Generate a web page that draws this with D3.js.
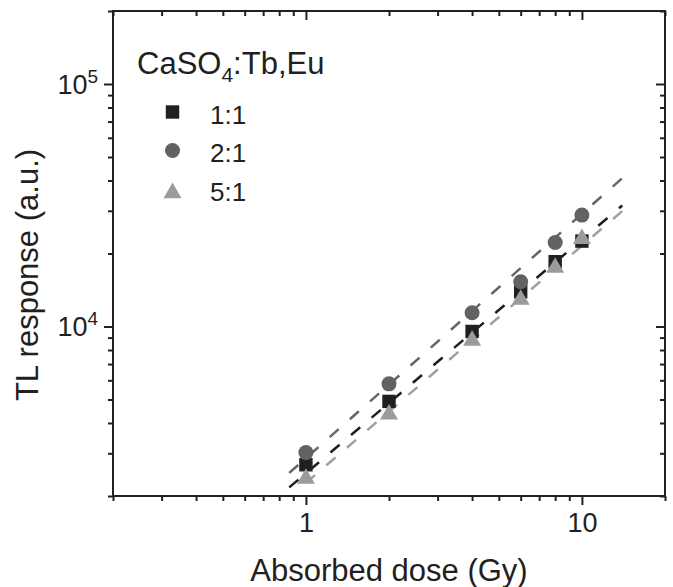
<!DOCTYPE html>
<html>
<head>
<meta charset="utf-8">
<script src="https://cdn.jsdelivr.net/npm/d3@7"></script>
<style>
  html, body { margin: 0; padding: 0; background: #fff; }
  svg { display: block; }
  text { font-family: "Liberation Sans", Arial, Helvetica, sans-serif; fill: #231f20; }
</style>
</head>
<body>
<svg id="chart" width="673" height="587"></svg>
<script>
// Absorbed dose (Gy)
const dose = [1, 2, 4, 6, 8, 10];
// TL response (a.u.) for each Tb:Eu ratio
const resp11 = [2690, 4910, 9540, 13900, 18500, 22500];
const resp21 = [3020, 5800, 11400, 15300, 22200, 28800];
const resp51 = [2360, 4340, 8740, 12900, 17500, 23000];

// Linear fit end points (dose, response)
const fit11Dose = [0.87, 14];
const fit11Resp = [2170, 31550];
const fit21Dose = [0.87, 14];
const fit21Resp = [2490, 40900];
const fit51Dose = [1.0, 14];
const fit51Resp = [2265, 29930];

const seriesNames = ["1:1", "2:1", "5:1"];
const xMajor = [1, 10];
const xMinor = [0.2, 0.3, 0.4, 0.5, 0.6, 0.7, 0.8, 0.9, 2, 3, 4, 5, 6, 7, 8, 9, 20];
const yMajor = [1e4, 1e5];
const yMinor = [2000, 3000, 4000, 5000, 6000, 7000, 8000, 9000,
                20000, 30000, 40000, 50000, 60000, 70000, 80000, 90000, 200000];

const ink = "#231f20";
const plotL = 113, plotR = 665, plotT = 11, plotB = 496;

const svg = d3.select("#chart");
const x = d3.scaleLog().domain([0.2, 20]).range([plotL, plotR]);
const y = d3.scaleLog().domain([2000, 200000]).range([plotB, plotT]);

function styleAxis(g) {
  g.select(".domain").remove();
  g.selectAll(".tick line").attr("stroke", ink).attr("stroke-width", 2);
}

// bottom axis (outward ticks)
svg.append("g").attr("transform", `translate(0,${plotB})`)
  .call(d3.axisBottom(x).tickValues(xMinor).tickSize(5).tickFormat(""))
  .call(styleAxis);
const xb = svg.append("g").attr("transform", `translate(0,${plotB})`)
  .call(d3.axisBottom(x).tickValues(xMajor).tickSize(9).tickPadding(8).tickFormat(d3.format("d")))
  .call(styleAxis);
xb.selectAll("text").attr("font-size", 27).attr("fill", ink);

// top axis (inward ticks)
svg.append("g").attr("transform", `translate(0,${plotT})`)
  .call(d3.axisBottom(x).tickValues(xMinor).tickSize(5).tickFormat(""))
  .call(styleAxis);
svg.append("g").attr("transform", `translate(0,${plotT})`)
  .call(d3.axisBottom(x).tickValues(xMajor).tickSize(9).tickFormat(""))
  .call(styleAxis);

// left axis (outward ticks)
svg.append("g").attr("transform", `translate(${plotL},0)`)
  .call(d3.axisLeft(y).tickValues(yMinor).tickSize(5).tickFormat(""))
  .call(styleAxis);
const yl = svg.append("g").attr("transform", `translate(${plotL},0)`)
  .call(d3.axisLeft(y).tickValues(yMajor).tickSize(9).tickPadding(6).tickFormat(""))
  .call(styleAxis);
yl.selectAll(".tick text").each(function(d) {
  const t = d3.select(this).attr("font-size", 27).attr("dy", "0.35em").attr("fill", ink);
  t.text(null);
  t.append("tspan").text("10");
  t.append("tspan").attr("font-size", 19).attr("dy", -11).text(Math.round(Math.log10(d)));
});

// right axis (inward ticks)
svg.append("g").attr("transform", `translate(${plotR},0)`)
  .call(d3.axisLeft(y).tickValues(yMinor).tickSize(5).tickFormat(""))
  .call(styleAxis);
svg.append("g").attr("transform", `translate(${plotR},0)`)
  .call(d3.axisLeft(y).tickValues(yMajor).tickSize(9).tickFormat(""))
  .call(styleAxis);

// frame
svg.append("rect")
  .attr("x", plotL).attr("y", plotT)
  .attr("width", plotR - plotL).attr("height", plotB - plotT)
  .attr("fill", "none").attr("stroke", ink).attr("stroke-width", 2);

// fit lines
const line = d3.line().x(d => x(d[0])).y(d => y(d[1]));
const fits = [
  { d: d3.zip(fit21Dose, fit21Resp), c: "#666666" },
  { d: d3.zip(fit11Dose, fit11Resp), c: "#1e1e1e" },
  { d: d3.zip(fit51Dose, fit51Resp), c: "#a0a0a0" }
];
svg.append("g").selectAll("path").data(fits).join("path")
  .attr("d", f => line(f.d))
  .attr("fill", "none")
  .attr("stroke", f => f.c)
  .attr("stroke-width", 2.5)
  .attr("stroke-dasharray", "12,15");

// markers
const series = [
  { v: resp11, sym: d3.symbolSquare, size: 180, c: ink },
  { v: resp21, sym: d3.symbolCircle, size: 177, c: "#626262" },
  { v: resp51, sym: d3.symbolTriangle, size: 140, c: "#9b9b9b" }
];
series.forEach(s => {
  svg.append("g").selectAll("path").data(d3.zip(dose, s.v)).join("path")
    .attr("transform", d => `translate(${x(d[0])},${y(d[1])})`)
    .attr("d", d3.symbol(s.sym, s.size))
    .attr("fill", s.c);
});

// legend
const lg = svg.append("g");
const title = lg.append("text").attr("x", 137).attr("y", 74).attr("font-size", 31);
title.append("tspan").text("CaSO");
title.append("tspan").attr("font-size", 21).attr("dy", 8).text("4");
title.append("tspan").attr("dy", -8).text(":Tb,Eu");

const rowY = [114, 152.5, 191];
series.forEach((s, i) => {
  lg.append("path")
    .attr("transform", `translate(172.5,${rowY[i] - (i === 2 ? -2 : 2)})`)
    .attr("d", d3.symbol(s.sym, s.size))
    .attr("fill", s.c);
  lg.append("text")
    .attr("x", 210).attr("y", rowY[i] + 9.5)
    .attr("font-size", 26)
    .text(seriesNames[i]);
});

// axis titles
svg.append("text")
  .attr("x", (plotL + plotR) / 2).attr("y", 581)
  .attr("text-anchor", "middle").attr("font-size", 31)
  .text("Absorbed dose (Gy)");
svg.append("text")
  .attr("transform", "translate(38,275) rotate(-90)")
  .attr("text-anchor", "middle").attr("font-size", 31)
  .text("TL response (a.u.)");
</script>
</body>
</html>
